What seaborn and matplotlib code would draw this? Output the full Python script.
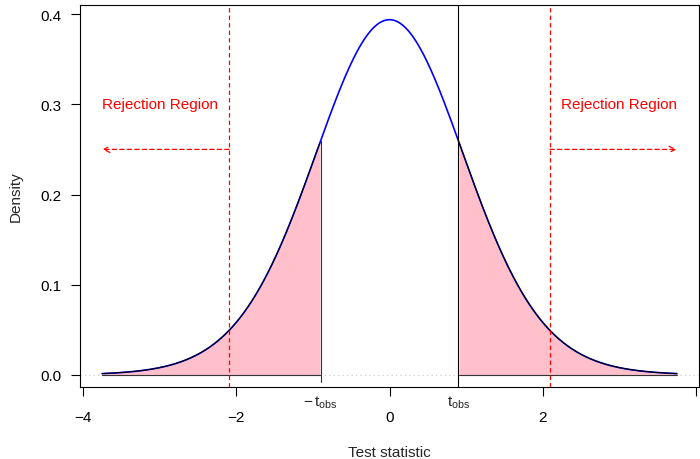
import math
import numpy as np
import pandas as pd
import matplotlib
matplotlib.use("Agg")
import matplotlib.pyplot as plt
import seaborn as sns

# ---- data ----
df_t = 19                 # degrees of freedom of the t density
t_obs = 0.9               # observed statistic
t_crit = 2.093            # critical value
curve_range = [-3.75, 3.75]
x_ticks = [-4, -2, 0, 2, 4]
x_tick_labels = ["\u22124", "\u22122", "0", "2", ""]
y_ticks = [0.0, 0.1, 0.2, 0.3, 0.4]
y_tick_labels = ["0.0", "0.1", "0.2", "0.3", "0.4"]
region_text = "Rejection Region"
region_text_x = [-3.0, 3.0]
region_text_y = 0.30
arrow_y = 0.25
arrow_ends = [-3.75, 3.75]


def t_pdf(x, k):
    c = math.gamma((k + 1) / 2) / (math.sqrt(k * math.pi) * math.gamma(k / 2))
    return c * (1 + x ** 2 / k) ** (-(k + 1) / 2)


xs = np.linspace(curve_range[0], curve_range[1], 600)
curve = pd.DataFrame({"x": xs, "density": t_pdf(xs, df_t)})
left_tail = curve[curve["x"] <= -t_obs]
right_tail = curve[curve["x"] >= t_obs]
h_obs = t_pdf(t_obs, df_t)

# ---- style ----
sns.set_style("white")
plt.rcParams["font.family"] = ["Liberation Sans", "DejaVu Sans"]
plt.rcParams["mathtext.fontset"] = "custom"
plt.rcParams["mathtext.rm"] = "Liberation Sans"
plt.rcParams["mathtext.it"] = "Liberation Sans:italic"
plt.rcParams["mathtext.bf"] = "Liberation Sans:bold"
plt.rcParams["axes.unicode_minus"] = True

fig = plt.figure(figsize=(7.0, 4.6), dpi=100)
ax = fig.add_axes([80 / 700, 1 - 388 / 460, 619 / 700, 382 / 460])

# light dotted zero line
ax.axhline(0, color="#c8c8c8", ls=(0, (1, 3)), lw=0.8, zorder=1)

# pink tails
ax.fill_between(left_tail["x"], 0, left_tail["density"], color="#FFC0CB", lw=0, zorder=2)
ax.fill_between(right_tail["x"], 0, right_tail["density"], color="#FFC0CB", lw=0, zorder=2)

# blue full density curve
sns.lineplot(data=curve, x="x", y="density", color="blue", lw=1.2, ax=ax, zorder=3)

# black polygon borders on tails
for tail in (left_tail, right_tail):
    sns.lineplot(data=tail, x="x", y="density", color="black", lw=0.8, ax=ax, zorder=4)
    ax.plot([tail["x"].min(), tail["x"].max()], [0, 0], color="#333333", lw=0.8, zorder=4)
ax.plot([-t_obs, -t_obs], [-0.008, h_obs], color="#333333", lw=0.8, zorder=4)
ax.axvline(t_obs, color="black", lw=0.8, zorder=4)

# critical value lines
for c in (-t_crit, t_crit):
    ax.axvline(c, color="red", ls=(0, (3.5, 2.5)), lw=0.9, zorder=5)

# arrows and texts
for start, end, tx in zip((-t_crit, t_crit), arrow_ends, region_text_x):
    ax.annotate("", xy=(end, arrow_y), xytext=(start, arrow_y),
                arrowprops=dict(arrowstyle="->,head_length=0.45,head_width=0.22",
                                color="red", ls=(0, (3.5, 2.5)), lw=0.9,
                                shrinkA=0, shrinkB=0), zorder=5)
    ax.text(tx, region_text_y, region_text, color="red", fontsize=11,
            ha="center", va="center")

# axes
ax.set_xlim(-4.039, 4.039)
ax.set_ylim(-0.0133, 0.41)
ax.set_xticks(x_ticks)
ax.set_xticklabels(x_tick_labels)
ax.set_yticks(y_ticks)
ax.set_yticklabels(y_tick_labels)
ax.tick_params(axis="x", direction="out", length=6.5, width=0.8, pad=10,
               labelsize=11, colors="black", bottom=True)
ax.tick_params(axis="y", direction="out", length=6.5, width=0.8, pad=6.5,
               labelsize=11, colors="black", left=True)
for s in ax.spines.values():
    s.set_visible(True)
    s.set_color("black")
    s.set_linewidth(0.8)
ax.set_xlabel("")
ax.set_ylabel("")

# t_obs labels under the axis
for xv, lab in ((-t_obs, r"$\mathrm{-\,t_{obs}}$"), (t_obs, r"$\mathrm{t_{obs}}$")):
    ax.annotate(lab, xy=(xv, 0), xycoords=("data", "axes fraction"),
                xytext=(0, -4.5), textcoords="offset points",
                ha="center", va="top", fontsize=11)

ax.text(0.5, (388 - 453) / 382, "Test statistic", transform=ax.transAxes,
        ha="center", va="center", fontsize=11)
ax.text((16 - 80) / 619, 0.5, "Density", transform=ax.transAxes,
        ha="center", va="center", rotation=90, fontsize=11)

fig.savefig("out.png", dpi=100)
